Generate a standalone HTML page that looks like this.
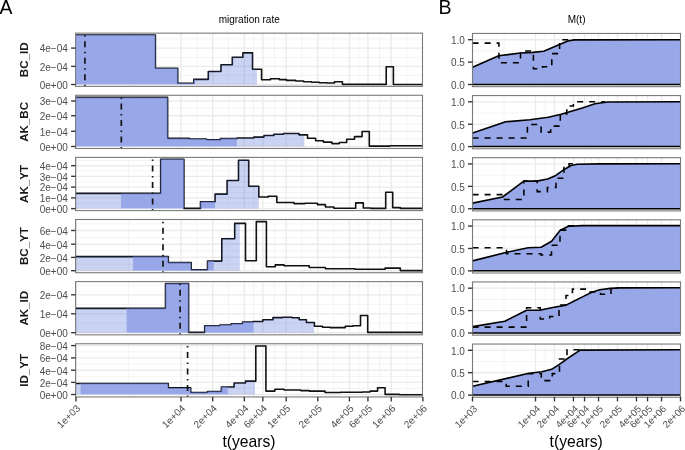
<!DOCTYPE html><html><head><meta charset="utf-8"><style>html,body{margin:0;padding:0;background:#fff;width:685px;height:450px;overflow:hidden}svg{display:block;font-family:"Liberation Sans",sans-serif;will-change:transform}</style></head><body>
<svg width="685" height="450" viewBox="0 0 685 450">
<rect width="685" height="450" fill="#fff"/>
<text x="-0.5" y="13.7" font-size="19.4" fill="#000">A</text>
<text x="438.6" y="13.7" font-size="19.6" fill="#000">B</text>
<text x="249.2" y="22.8" font-size="10" text-anchor="middle" fill="#000">migration rate</text>
<text x="576.6" y="23" font-size="10" text-anchor="middle" fill="#000">M(t)</text>
<clipPath id="cl0"><rect x="75.6" y="33.15" width="346.9" height="53.2"/></clipPath>
<g clip-path="url(#cl0)">
<line x1="75.6" x2="422.5" y1="75.45" y2="75.45" stroke="#f3f3f3" stroke-width="0.9"/>
<line x1="75.6" x2="422.5" y1="57.35" y2="57.35" stroke="#f3f3f3" stroke-width="0.9"/>
<line x1="75.6" x2="422.5" y1="39.05" y2="39.05" stroke="#f3f3f3" stroke-width="0.9"/>
<line x1="128.5" x2="128.5" y1="33.15" y2="86.35" stroke="#f3f3f3" stroke-width="0.9"/>
<line x1="196.87" x2="196.87" y1="33.15" y2="86.35" stroke="#f3f3f3" stroke-width="0.9"/>
<line x1="228.51" x2="228.51" y1="33.15" y2="86.35" stroke="#f3f3f3" stroke-width="0.9"/>
<line x1="253.58" x2="253.58" y1="33.15" y2="86.35" stroke="#f3f3f3" stroke-width="0.9"/>
<line x1="274.49" x2="274.49" y1="33.15" y2="86.35" stroke="#f3f3f3" stroke-width="0.9"/>
<line x1="301.97" x2="301.97" y1="33.15" y2="86.35" stroke="#f3f3f3" stroke-width="0.9"/>
<line x1="333.61" x2="333.61" y1="33.15" y2="86.35" stroke="#f3f3f3" stroke-width="0.9"/>
<line x1="358.68" x2="358.68" y1="33.15" y2="86.35" stroke="#f3f3f3" stroke-width="0.9"/>
<line x1="379.59" x2="379.59" y1="33.15" y2="86.35" stroke="#f3f3f3" stroke-width="0.9"/>
<line x1="407.07" x2="407.07" y1="33.15" y2="86.35" stroke="#f3f3f3" stroke-width="0.9"/>
<line x1="75.6" x2="422.5" y1="84.5" y2="84.5" stroke="#ebebeb" stroke-width="1.35"/>
<line x1="75.6" x2="422.5" y1="66.4" y2="66.4" stroke="#ebebeb" stroke-width="1.35"/>
<line x1="75.6" x2="422.5" y1="48.1" y2="48.1" stroke="#ebebeb" stroke-width="1.35"/>
<line x1="75.95" x2="75.95" y1="33.15" y2="86.35" stroke="#ebebeb" stroke-width="1.35"/>
<line x1="181.05" x2="181.05" y1="33.15" y2="86.35" stroke="#ebebeb" stroke-width="1.35"/>
<line x1="212.69" x2="212.69" y1="33.15" y2="86.35" stroke="#ebebeb" stroke-width="1.35"/>
<line x1="244.33" x2="244.33" y1="33.15" y2="86.35" stroke="#ebebeb" stroke-width="1.35"/>
<line x1="262.83" x2="262.83" y1="33.15" y2="86.35" stroke="#ebebeb" stroke-width="1.35"/>
<line x1="286.15" x2="286.15" y1="33.15" y2="86.35" stroke="#ebebeb" stroke-width="1.35"/>
<line x1="317.79" x2="317.79" y1="33.15" y2="86.35" stroke="#ebebeb" stroke-width="1.35"/>
<line x1="349.43" x2="349.43" y1="33.15" y2="86.35" stroke="#ebebeb" stroke-width="1.35"/>
<line x1="367.93" x2="367.93" y1="33.15" y2="86.35" stroke="#ebebeb" stroke-width="1.35"/>
<line x1="391.25" x2="391.25" y1="33.15" y2="86.35" stroke="#ebebeb" stroke-width="1.35"/>
<line x1="422.89" x2="422.89" y1="33.15" y2="86.35" stroke="#ebebeb" stroke-width="1.35"/>
<path d="M75.8,84.5 L75.8,35 L155.4,35 L155.4,68.2 L177.7,68.2 L177.7,83.2 L193.8,83.2 L193.8,79.4 L195.2,79.4 L195.2,84.5 Z" fill="#fff"/>
<path d="M75.6,35 H155.4 V68.2 H177.7 V83.2 H193.8 V79.4 H208.3 V71.5 H221 V64.7 H232.3 V57.2 H242.9 V52.9 H252.5 V69.3 H261.6 V79.7 H270.5 V78.7 H279.3 V79.6 H286.5 V80.4 H295.7 V81 H303.6 V81.7 H311.5 V82.2 H319.4 V82.7 H327 V83 H334.5 V81.7 H342.4 V84.4 H386.2 V66.8 H393.4 V84.5 H422.6" fill="none" stroke="#111" stroke-width="1.6" stroke-linejoin="round"/>
<path d="M75.8,84.5 L75.8,35 L155.4,35 L155.4,68.2 L177.7,68.2 L177.7,83.2 L193.8,83.2 L193.8,79.4 L195.2,79.4 L195.2,84.5 Z" fill="rgb(116,138,223)" fill-opacity="0.75"/>
<path d="M195.2,84.5 L195.2,79.4 L208.3,79.4 L208.3,71.5 L221,71.5 L221,64.7 L232.3,64.7 L232.3,57.2 L242.9,57.2 L242.9,52.9 L252.5,52.9 L252.5,69.3 L257,69.3 L257,84.5 Z" fill="rgb(47,79,208)" fill-opacity="0.25"/>
<line x1="84.9" x2="84.9" y1="86.35" y2="33.15" stroke="#141414" stroke-width="1.7" stroke-dasharray="1.5 4.5 6 4.5"/>
</g>
<rect x="75.6" y="33.15" width="346.9" height="53.2" fill="none" stroke="#7a7a7a" stroke-width="1.1"/>
<line x1="71.1" x2="75.6" y1="84.5" y2="84.5" stroke="#333" stroke-width="1.35"/>
<text x="67.8" y="88.8" font-size="10" text-anchor="end" fill="#4d4d4d">0e+00</text>
<line x1="71.1" x2="75.6" y1="66.4" y2="66.4" stroke="#333" stroke-width="1.35"/>
<text x="67.8" y="70.7" font-size="10" text-anchor="end" fill="#4d4d4d">2e−04</text>
<line x1="71.1" x2="75.6" y1="48.1" y2="48.1" stroke="#333" stroke-width="1.35"/>
<text x="67.8" y="52.4" font-size="10" text-anchor="end" fill="#4d4d4d">4e−04</text>
<text transform="translate(28.4,59.75) rotate(-90)" font-size="11.6" font-weight="bold" text-anchor="middle" fill="#1a1a1a">BC_ID</text>
<clipPath id="cr0"><rect x="472.5" y="33.45" width="208" height="53.2"/></clipPath>
<g clip-path="url(#cr0)">
<line x1="472.5" x2="680.5" y1="73.3" y2="73.3" stroke="#f3f3f3" stroke-width="0.9"/>
<line x1="472.5" x2="680.5" y1="50.9" y2="50.9" stroke="#f3f3f3" stroke-width="0.9"/>
<line x1="504.01" x2="504.01" y1="33.45" y2="86.65" stroke="#f3f3f3" stroke-width="0.9"/>
<line x1="544.99" x2="544.99" y1="33.45" y2="86.65" stroke="#f3f3f3" stroke-width="0.9"/>
<line x1="563.96" x2="563.96" y1="33.45" y2="86.65" stroke="#f3f3f3" stroke-width="0.9"/>
<line x1="578.99" x2="578.99" y1="33.45" y2="86.65" stroke="#f3f3f3" stroke-width="0.9"/>
<line x1="591.53" x2="591.53" y1="33.45" y2="86.65" stroke="#f3f3f3" stroke-width="0.9"/>
<line x1="608.01" x2="608.01" y1="33.45" y2="86.65" stroke="#f3f3f3" stroke-width="0.9"/>
<line x1="626.97" x2="626.97" y1="33.45" y2="86.65" stroke="#f3f3f3" stroke-width="0.9"/>
<line x1="642.01" x2="642.01" y1="33.45" y2="86.65" stroke="#f3f3f3" stroke-width="0.9"/>
<line x1="654.54" x2="654.54" y1="33.45" y2="86.65" stroke="#f3f3f3" stroke-width="0.9"/>
<line x1="671.02" x2="671.02" y1="33.45" y2="86.65" stroke="#f3f3f3" stroke-width="0.9"/>
<line x1="472.5" x2="680.5" y1="84.5" y2="84.5" stroke="#ebebeb" stroke-width="1.35"/>
<line x1="472.5" x2="680.5" y1="62.1" y2="62.1" stroke="#ebebeb" stroke-width="1.35"/>
<line x1="472.5" x2="680.5" y1="39.7" y2="39.7" stroke="#ebebeb" stroke-width="1.35"/>
<line x1="472.5" x2="472.5" y1="33.45" y2="86.65" stroke="#ebebeb" stroke-width="1.35"/>
<line x1="535.51" x2="535.51" y1="33.45" y2="86.65" stroke="#ebebeb" stroke-width="1.35"/>
<line x1="554.48" x2="554.48" y1="33.45" y2="86.65" stroke="#ebebeb" stroke-width="1.35"/>
<line x1="573.45" x2="573.45" y1="33.45" y2="86.65" stroke="#ebebeb" stroke-width="1.35"/>
<line x1="584.54" x2="584.54" y1="33.45" y2="86.65" stroke="#ebebeb" stroke-width="1.35"/>
<line x1="598.52" x2="598.52" y1="33.45" y2="86.65" stroke="#ebebeb" stroke-width="1.35"/>
<line x1="617.49" x2="617.49" y1="33.45" y2="86.65" stroke="#ebebeb" stroke-width="1.35"/>
<line x1="636.46" x2="636.46" y1="33.45" y2="86.65" stroke="#ebebeb" stroke-width="1.35"/>
<line x1="647.55" x2="647.55" y1="33.45" y2="86.65" stroke="#ebebeb" stroke-width="1.35"/>
<line x1="661.53" x2="661.53" y1="33.45" y2="86.65" stroke="#ebebeb" stroke-width="1.35"/>
<line x1="680.5" x2="680.5" y1="33.45" y2="86.65" stroke="#ebebeb" stroke-width="1.35"/>
<path d="M472.6,84.5 L472.6,67.3 L498.7,55.8 L520.3,53 L533,52.4 L543.7,51.3 L559.6,44.6 L567.8,41 L574.1,39.9 L680.6,39.7 L680.6,84.5 Z" fill="#97a7e7"/>
<line x1="472.5" x2="680.5" y1="84.5" y2="84.5" stroke="#000" stroke-width="1.5"/>
<path d="M472.6,67.3 L498.7,55.8 L520.3,53 L533,52.4 L543.7,51.3 L559.6,44.6 L567.8,41 L574.1,39.9 L680.6,39.7" fill="none" stroke="#000" stroke-width="1.6" stroke-linejoin="round"/>
<path d="M472.6,43.1 H498.9 V62.8 H520.5 V51 H533.4 V68.8 H542.6 V66.8 H551.8 V53.6 H559.6 V39.8 H574" fill="none" stroke="#000" stroke-width="1.55" stroke-dasharray="6 6"/>
</g>
<rect x="472.5" y="33.45" width="208" height="53.2" fill="none" stroke="#7a7a7a" stroke-width="1.1"/>
<line x1="468" x2="472.5" y1="84.5" y2="84.5" stroke="#333" stroke-width="1.35"/>
<text x="464.9" y="88.8" font-size="10" text-anchor="end" fill="#4d4d4d">0.0</text>
<line x1="468" x2="472.5" y1="62.1" y2="62.1" stroke="#333" stroke-width="1.35"/>
<text x="464.9" y="66.4" font-size="10" text-anchor="end" fill="#4d4d4d">0.5</text>
<line x1="468" x2="472.5" y1="39.7" y2="39.7" stroke="#333" stroke-width="1.35"/>
<text x="464.9" y="44" font-size="10" text-anchor="end" fill="#4d4d4d">1.0</text>
<clipPath id="cl1"><rect x="75.6" y="95.27" width="346.9" height="53.2"/></clipPath>
<g clip-path="url(#cl1)">
<line x1="75.6" x2="422.5" y1="138.9" y2="138.9" stroke="#f3f3f3" stroke-width="0.9"/>
<line x1="75.6" x2="422.5" y1="123.7" y2="123.7" stroke="#f3f3f3" stroke-width="0.9"/>
<line x1="75.6" x2="422.5" y1="108.1" y2="108.1" stroke="#f3f3f3" stroke-width="0.9"/>
<line x1="128.5" x2="128.5" y1="95.27" y2="148.47" stroke="#f3f3f3" stroke-width="0.9"/>
<line x1="196.87" x2="196.87" y1="95.27" y2="148.47" stroke="#f3f3f3" stroke-width="0.9"/>
<line x1="228.51" x2="228.51" y1="95.27" y2="148.47" stroke="#f3f3f3" stroke-width="0.9"/>
<line x1="253.58" x2="253.58" y1="95.27" y2="148.47" stroke="#f3f3f3" stroke-width="0.9"/>
<line x1="274.49" x2="274.49" y1="95.27" y2="148.47" stroke="#f3f3f3" stroke-width="0.9"/>
<line x1="301.97" x2="301.97" y1="95.27" y2="148.47" stroke="#f3f3f3" stroke-width="0.9"/>
<line x1="333.61" x2="333.61" y1="95.27" y2="148.47" stroke="#f3f3f3" stroke-width="0.9"/>
<line x1="358.68" x2="358.68" y1="95.27" y2="148.47" stroke="#f3f3f3" stroke-width="0.9"/>
<line x1="379.59" x2="379.59" y1="95.27" y2="148.47" stroke="#f3f3f3" stroke-width="0.9"/>
<line x1="407.07" x2="407.07" y1="95.27" y2="148.47" stroke="#f3f3f3" stroke-width="0.9"/>
<line x1="75.6" x2="422.5" y1="146.5" y2="146.5" stroke="#ebebeb" stroke-width="1.35"/>
<line x1="75.6" x2="422.5" y1="131.3" y2="131.3" stroke="#ebebeb" stroke-width="1.35"/>
<line x1="75.6" x2="422.5" y1="115.7" y2="115.7" stroke="#ebebeb" stroke-width="1.35"/>
<line x1="75.6" x2="422.5" y1="101" y2="101" stroke="#ebebeb" stroke-width="1.35"/>
<line x1="75.95" x2="75.95" y1="95.27" y2="148.47" stroke="#ebebeb" stroke-width="1.35"/>
<line x1="181.05" x2="181.05" y1="95.27" y2="148.47" stroke="#ebebeb" stroke-width="1.35"/>
<line x1="212.69" x2="212.69" y1="95.27" y2="148.47" stroke="#ebebeb" stroke-width="1.35"/>
<line x1="244.33" x2="244.33" y1="95.27" y2="148.47" stroke="#ebebeb" stroke-width="1.35"/>
<line x1="262.83" x2="262.83" y1="95.27" y2="148.47" stroke="#ebebeb" stroke-width="1.35"/>
<line x1="286.15" x2="286.15" y1="95.27" y2="148.47" stroke="#ebebeb" stroke-width="1.35"/>
<line x1="317.79" x2="317.79" y1="95.27" y2="148.47" stroke="#ebebeb" stroke-width="1.35"/>
<line x1="349.43" x2="349.43" y1="95.27" y2="148.47" stroke="#ebebeb" stroke-width="1.35"/>
<line x1="367.93" x2="367.93" y1="95.27" y2="148.47" stroke="#ebebeb" stroke-width="1.35"/>
<line x1="391.25" x2="391.25" y1="95.27" y2="148.47" stroke="#ebebeb" stroke-width="1.35"/>
<line x1="422.89" x2="422.89" y1="95.27" y2="148.47" stroke="#ebebeb" stroke-width="1.35"/>
<path d="M75.8,146.5 L75.8,97.4 L167.6,97.4 L167.6,138.4 L189.4,138.4 L189.4,139 L206.5,139 L206.5,139.7 L220.4,139.7 L220.4,138.6 L236.9,138.6 L236.9,146.5 Z" fill="#fff"/>
<path d="M75.6,97.4 H167.6 V138.4 H189.4 V139 H206.5 V139.7 H220.4 V138.6 H236.9 V138 H253.9 V137.1 H264 V135.5 H273.9 V134.2 H283.4 V133.5 H299 V134.9 H307.5 V138.3 H315.6 V140.8 H323.4 V142.1 H331.9 V143.6 H339.3 V142.5 H346.7 V139.3 H354.5 V136.6 H362.1 V131.5 H369.3 V146.1 H390 V145.7 H422.6" fill="none" stroke="#111" stroke-width="1.6" stroke-linejoin="round"/>
<path d="M75.8,146.5 L75.8,97.4 L167.6,97.4 L167.6,138.4 L189.4,138.4 L189.4,139 L206.5,139 L206.5,139.7 L220.4,139.7 L220.4,138.6 L236.9,138.6 L236.9,146.5 Z" fill="rgb(116,138,223)" fill-opacity="0.75"/>
<path d="M236.9,146.5 L236.9,138 L253.9,138 L253.9,137.1 L264,137.1 L264,135.5 L273.9,135.5 L273.9,134.2 L283.4,134.2 L283.4,133.5 L299,133.5 L299,134.9 L304.3,134.9 L304.3,146.5 Z" fill="rgb(47,79,208)" fill-opacity="0.25"/>
<line x1="121.3" x2="121.3" y1="148.47" y2="95.27" stroke="#141414" stroke-width="1.7" stroke-dasharray="1.5 4.5 6 4.5"/>
</g>
<rect x="75.6" y="95.27" width="346.9" height="53.2" fill="none" stroke="#7a7a7a" stroke-width="1.1"/>
<line x1="71.1" x2="75.6" y1="146.5" y2="146.5" stroke="#333" stroke-width="1.35"/>
<text x="67.8" y="150.8" font-size="10" text-anchor="end" fill="#4d4d4d">0e+00</text>
<line x1="71.1" x2="75.6" y1="131.3" y2="131.3" stroke="#333" stroke-width="1.35"/>
<text x="67.8" y="135.6" font-size="10" text-anchor="end" fill="#4d4d4d">1e−04</text>
<line x1="71.1" x2="75.6" y1="115.7" y2="115.7" stroke="#333" stroke-width="1.35"/>
<text x="67.8" y="120" font-size="10" text-anchor="end" fill="#4d4d4d">2e−04</text>
<line x1="71.1" x2="75.6" y1="101" y2="101" stroke="#333" stroke-width="1.35"/>
<text x="67.8" y="105.3" font-size="10" text-anchor="end" fill="#4d4d4d">3e−04</text>
<text transform="translate(28.4,121.87) rotate(-90)" font-size="11.6" font-weight="bold" text-anchor="middle" fill="#1a1a1a">AK_BC</text>
<clipPath id="cr1"><rect x="472.5" y="95.57" width="208" height="53.2"/></clipPath>
<g clip-path="url(#cr1)">
<line x1="472.5" x2="680.5" y1="135.42" y2="135.42" stroke="#f3f3f3" stroke-width="0.9"/>
<line x1="472.5" x2="680.5" y1="113.02" y2="113.02" stroke="#f3f3f3" stroke-width="0.9"/>
<line x1="504.01" x2="504.01" y1="95.57" y2="148.77" stroke="#f3f3f3" stroke-width="0.9"/>
<line x1="544.99" x2="544.99" y1="95.57" y2="148.77" stroke="#f3f3f3" stroke-width="0.9"/>
<line x1="563.96" x2="563.96" y1="95.57" y2="148.77" stroke="#f3f3f3" stroke-width="0.9"/>
<line x1="578.99" x2="578.99" y1="95.57" y2="148.77" stroke="#f3f3f3" stroke-width="0.9"/>
<line x1="591.53" x2="591.53" y1="95.57" y2="148.77" stroke="#f3f3f3" stroke-width="0.9"/>
<line x1="608.01" x2="608.01" y1="95.57" y2="148.77" stroke="#f3f3f3" stroke-width="0.9"/>
<line x1="626.97" x2="626.97" y1="95.57" y2="148.77" stroke="#f3f3f3" stroke-width="0.9"/>
<line x1="642.01" x2="642.01" y1="95.57" y2="148.77" stroke="#f3f3f3" stroke-width="0.9"/>
<line x1="654.54" x2="654.54" y1="95.57" y2="148.77" stroke="#f3f3f3" stroke-width="0.9"/>
<line x1="671.02" x2="671.02" y1="95.57" y2="148.77" stroke="#f3f3f3" stroke-width="0.9"/>
<line x1="472.5" x2="680.5" y1="146.62" y2="146.62" stroke="#ebebeb" stroke-width="1.35"/>
<line x1="472.5" x2="680.5" y1="124.22" y2="124.22" stroke="#ebebeb" stroke-width="1.35"/>
<line x1="472.5" x2="680.5" y1="101.82" y2="101.82" stroke="#ebebeb" stroke-width="1.35"/>
<line x1="472.5" x2="472.5" y1="95.57" y2="148.77" stroke="#ebebeb" stroke-width="1.35"/>
<line x1="535.51" x2="535.51" y1="95.57" y2="148.77" stroke="#ebebeb" stroke-width="1.35"/>
<line x1="554.48" x2="554.48" y1="95.57" y2="148.77" stroke="#ebebeb" stroke-width="1.35"/>
<line x1="573.45" x2="573.45" y1="95.57" y2="148.77" stroke="#ebebeb" stroke-width="1.35"/>
<line x1="584.54" x2="584.54" y1="95.57" y2="148.77" stroke="#ebebeb" stroke-width="1.35"/>
<line x1="598.52" x2="598.52" y1="95.57" y2="148.77" stroke="#ebebeb" stroke-width="1.35"/>
<line x1="617.49" x2="617.49" y1="95.57" y2="148.77" stroke="#ebebeb" stroke-width="1.35"/>
<line x1="636.46" x2="636.46" y1="95.57" y2="148.77" stroke="#ebebeb" stroke-width="1.35"/>
<line x1="647.55" x2="647.55" y1="95.57" y2="148.77" stroke="#ebebeb" stroke-width="1.35"/>
<line x1="661.53" x2="661.53" y1="95.57" y2="148.77" stroke="#ebebeb" stroke-width="1.35"/>
<line x1="680.5" x2="680.5" y1="95.57" y2="148.77" stroke="#ebebeb" stroke-width="1.35"/>
<path d="M472.6,146.62 L472.6,133 L505.7,121.8 L529.8,119.7 L548.3,117.3 L561.2,114.3 L582.3,108 L595,103.8 L607.7,102 L680.6,101.7 L680.6,146.62 Z" fill="#97a7e7"/>
<line x1="472.5" x2="680.5" y1="146.62" y2="146.62" stroke="#000" stroke-width="1.5"/>
<path d="M472.6,133 L505.7,121.8 L529.8,119.7 L548.3,117.3 L561.2,114.3 L582.3,108 L595,103.8 L607.7,102 L680.6,101.7" fill="none" stroke="#000" stroke-width="1.6" stroke-linejoin="round"/>
<path d="M472.6,137.9 H527.4 V124.5 H541.1 V132.1 H550.7 V126.1 H560.3 V114 H566.8 V106 H573.4 V101.7 H605" fill="none" stroke="#000" stroke-width="1.55" stroke-dasharray="6 6"/>
</g>
<rect x="472.5" y="95.57" width="208" height="53.2" fill="none" stroke="#7a7a7a" stroke-width="1.1"/>
<line x1="468" x2="472.5" y1="146.62" y2="146.62" stroke="#333" stroke-width="1.35"/>
<text x="464.9" y="150.92" font-size="10" text-anchor="end" fill="#4d4d4d">0.0</text>
<line x1="468" x2="472.5" y1="124.22" y2="124.22" stroke="#333" stroke-width="1.35"/>
<text x="464.9" y="128.52" font-size="10" text-anchor="end" fill="#4d4d4d">0.5</text>
<line x1="468" x2="472.5" y1="101.82" y2="101.82" stroke="#333" stroke-width="1.35"/>
<text x="464.9" y="106.12" font-size="10" text-anchor="end" fill="#4d4d4d">1.0</text>
<clipPath id="cl2"><rect x="75.6" y="157.39" width="346.9" height="53.2"/></clipPath>
<g clip-path="url(#cl2)">
<line x1="75.6" x2="422.5" y1="203.25" y2="203.25" stroke="#f3f3f3" stroke-width="0.9"/>
<line x1="75.6" x2="422.5" y1="192.55" y2="192.55" stroke="#f3f3f3" stroke-width="0.9"/>
<line x1="75.6" x2="422.5" y1="181.75" y2="181.75" stroke="#f3f3f3" stroke-width="0.9"/>
<line x1="75.6" x2="422.5" y1="170.95" y2="170.95" stroke="#f3f3f3" stroke-width="0.9"/>
<line x1="75.6" x2="422.5" y1="160.35" y2="160.35" stroke="#f3f3f3" stroke-width="0.9"/>
<line x1="128.5" x2="128.5" y1="157.39" y2="210.59" stroke="#f3f3f3" stroke-width="0.9"/>
<line x1="196.87" x2="196.87" y1="157.39" y2="210.59" stroke="#f3f3f3" stroke-width="0.9"/>
<line x1="228.51" x2="228.51" y1="157.39" y2="210.59" stroke="#f3f3f3" stroke-width="0.9"/>
<line x1="253.58" x2="253.58" y1="157.39" y2="210.59" stroke="#f3f3f3" stroke-width="0.9"/>
<line x1="274.49" x2="274.49" y1="157.39" y2="210.59" stroke="#f3f3f3" stroke-width="0.9"/>
<line x1="301.97" x2="301.97" y1="157.39" y2="210.59" stroke="#f3f3f3" stroke-width="0.9"/>
<line x1="333.61" x2="333.61" y1="157.39" y2="210.59" stroke="#f3f3f3" stroke-width="0.9"/>
<line x1="358.68" x2="358.68" y1="157.39" y2="210.59" stroke="#f3f3f3" stroke-width="0.9"/>
<line x1="379.59" x2="379.59" y1="157.39" y2="210.59" stroke="#f3f3f3" stroke-width="0.9"/>
<line x1="407.07" x2="407.07" y1="157.39" y2="210.59" stroke="#f3f3f3" stroke-width="0.9"/>
<line x1="75.6" x2="422.5" y1="208.6" y2="208.6" stroke="#ebebeb" stroke-width="1.35"/>
<line x1="75.6" x2="422.5" y1="197.9" y2="197.9" stroke="#ebebeb" stroke-width="1.35"/>
<line x1="75.6" x2="422.5" y1="187.1" y2="187.1" stroke="#ebebeb" stroke-width="1.35"/>
<line x1="75.6" x2="422.5" y1="176.3" y2="176.3" stroke="#ebebeb" stroke-width="1.35"/>
<line x1="75.6" x2="422.5" y1="165.7" y2="165.7" stroke="#ebebeb" stroke-width="1.35"/>
<line x1="75.95" x2="75.95" y1="157.39" y2="210.59" stroke="#ebebeb" stroke-width="1.35"/>
<line x1="181.05" x2="181.05" y1="157.39" y2="210.59" stroke="#ebebeb" stroke-width="1.35"/>
<line x1="212.69" x2="212.69" y1="157.39" y2="210.59" stroke="#ebebeb" stroke-width="1.35"/>
<line x1="244.33" x2="244.33" y1="157.39" y2="210.59" stroke="#ebebeb" stroke-width="1.35"/>
<line x1="262.83" x2="262.83" y1="157.39" y2="210.59" stroke="#ebebeb" stroke-width="1.35"/>
<line x1="286.15" x2="286.15" y1="157.39" y2="210.59" stroke="#ebebeb" stroke-width="1.35"/>
<line x1="317.79" x2="317.79" y1="157.39" y2="210.59" stroke="#ebebeb" stroke-width="1.35"/>
<line x1="349.43" x2="349.43" y1="157.39" y2="210.59" stroke="#ebebeb" stroke-width="1.35"/>
<line x1="367.93" x2="367.93" y1="157.39" y2="210.59" stroke="#ebebeb" stroke-width="1.35"/>
<line x1="391.25" x2="391.25" y1="157.39" y2="210.59" stroke="#ebebeb" stroke-width="1.35"/>
<line x1="422.89" x2="422.89" y1="157.39" y2="210.59" stroke="#ebebeb" stroke-width="1.35"/>
<path d="M120.9,208.6 L120.9,193.4 L160.7,193.4 L160.7,159.2 L183.9,159.2 L183.9,208.4 L200.5,208.4 L200.5,201.7 L215.1,201.7 L215.1,208.6 Z" fill="#fff"/>
<path d="M75.6,193.4 H160.7 V159.2 H183.9 V208.4 H200.5 V201.7 H215.1 V194.1 H227.1 V180.5 H238.5 V160.2 H248.7 V186.2 H258.8 V197 H268.3 V196.2 H276.8 V202.5 H293.9 V203.6 H305 V203.2 H317.4 V204.6 H325.4 V207 H333.9 V208.2 H355.7 V202.9 H363.3 V208 H370.9 V208.4 H385.7 V192.2 H392.7 V207.6 H400.3 V208.4 H422.6" fill="none" stroke="#111" stroke-width="1.6" stroke-linejoin="round"/>
<path d="M75.8,208.6 L75.8,193.4 L120.9,193.4 L120.9,208.6 Z" fill="rgb(47,79,208)" fill-opacity="0.25"/>
<path d="M120.9,208.6 L120.9,193.4 L160.7,193.4 L160.7,159.2 L183.9,159.2 L183.9,208.4 L200.5,208.4 L200.5,201.7 L215.1,201.7 L215.1,208.6 Z" fill="rgb(116,138,223)" fill-opacity="0.75"/>
<path d="M215.1,208.6 L215.1,194.1 L227.1,194.1 L227.1,180.5 L238.5,180.5 L238.5,160.2 L248.7,160.2 L248.7,186.2 L258.8,186.2 L258.8,208.6 Z" fill="rgb(47,79,208)" fill-opacity="0.25"/>
<line x1="152.6" x2="152.6" y1="210.59" y2="157.39" stroke="#141414" stroke-width="1.7" stroke-dasharray="1.5 4.5 6 4.5"/>
</g>
<rect x="75.6" y="157.39" width="346.9" height="53.2" fill="none" stroke="#7a7a7a" stroke-width="1.1"/>
<line x1="71.1" x2="75.6" y1="208.6" y2="208.6" stroke="#333" stroke-width="1.35"/>
<text x="67.8" y="212.9" font-size="10" text-anchor="end" fill="#4d4d4d">0e+00</text>
<line x1="71.1" x2="75.6" y1="197.9" y2="197.9" stroke="#333" stroke-width="1.35"/>
<text x="67.8" y="202.2" font-size="10" text-anchor="end" fill="#4d4d4d">1e−04</text>
<line x1="71.1" x2="75.6" y1="187.1" y2="187.1" stroke="#333" stroke-width="1.35"/>
<text x="67.8" y="191.4" font-size="10" text-anchor="end" fill="#4d4d4d">2e−04</text>
<line x1="71.1" x2="75.6" y1="176.3" y2="176.3" stroke="#333" stroke-width="1.35"/>
<text x="67.8" y="180.6" font-size="10" text-anchor="end" fill="#4d4d4d">3e−04</text>
<line x1="71.1" x2="75.6" y1="165.7" y2="165.7" stroke="#333" stroke-width="1.35"/>
<text x="67.8" y="170" font-size="10" text-anchor="end" fill="#4d4d4d">4e−04</text>
<text transform="translate(28.4,183.99) rotate(-90)" font-size="11.6" font-weight="bold" text-anchor="middle" fill="#1a1a1a">AK_YT</text>
<clipPath id="cr2"><rect x="472.5" y="157.69" width="208" height="53.2"/></clipPath>
<g clip-path="url(#cr2)">
<line x1="472.5" x2="680.5" y1="197.54" y2="197.54" stroke="#f3f3f3" stroke-width="0.9"/>
<line x1="472.5" x2="680.5" y1="175.14" y2="175.14" stroke="#f3f3f3" stroke-width="0.9"/>
<line x1="504.01" x2="504.01" y1="157.69" y2="210.89" stroke="#f3f3f3" stroke-width="0.9"/>
<line x1="544.99" x2="544.99" y1="157.69" y2="210.89" stroke="#f3f3f3" stroke-width="0.9"/>
<line x1="563.96" x2="563.96" y1="157.69" y2="210.89" stroke="#f3f3f3" stroke-width="0.9"/>
<line x1="578.99" x2="578.99" y1="157.69" y2="210.89" stroke="#f3f3f3" stroke-width="0.9"/>
<line x1="591.53" x2="591.53" y1="157.69" y2="210.89" stroke="#f3f3f3" stroke-width="0.9"/>
<line x1="608.01" x2="608.01" y1="157.69" y2="210.89" stroke="#f3f3f3" stroke-width="0.9"/>
<line x1="626.97" x2="626.97" y1="157.69" y2="210.89" stroke="#f3f3f3" stroke-width="0.9"/>
<line x1="642.01" x2="642.01" y1="157.69" y2="210.89" stroke="#f3f3f3" stroke-width="0.9"/>
<line x1="654.54" x2="654.54" y1="157.69" y2="210.89" stroke="#f3f3f3" stroke-width="0.9"/>
<line x1="671.02" x2="671.02" y1="157.69" y2="210.89" stroke="#f3f3f3" stroke-width="0.9"/>
<line x1="472.5" x2="680.5" y1="208.74" y2="208.74" stroke="#ebebeb" stroke-width="1.35"/>
<line x1="472.5" x2="680.5" y1="186.34" y2="186.34" stroke="#ebebeb" stroke-width="1.35"/>
<line x1="472.5" x2="680.5" y1="163.94" y2="163.94" stroke="#ebebeb" stroke-width="1.35"/>
<line x1="472.5" x2="472.5" y1="157.69" y2="210.89" stroke="#ebebeb" stroke-width="1.35"/>
<line x1="535.51" x2="535.51" y1="157.69" y2="210.89" stroke="#ebebeb" stroke-width="1.35"/>
<line x1="554.48" x2="554.48" y1="157.69" y2="210.89" stroke="#ebebeb" stroke-width="1.35"/>
<line x1="573.45" x2="573.45" y1="157.69" y2="210.89" stroke="#ebebeb" stroke-width="1.35"/>
<line x1="584.54" x2="584.54" y1="157.69" y2="210.89" stroke="#ebebeb" stroke-width="1.35"/>
<line x1="598.52" x2="598.52" y1="157.69" y2="210.89" stroke="#ebebeb" stroke-width="1.35"/>
<line x1="617.49" x2="617.49" y1="157.69" y2="210.89" stroke="#ebebeb" stroke-width="1.35"/>
<line x1="636.46" x2="636.46" y1="157.69" y2="210.89" stroke="#ebebeb" stroke-width="1.35"/>
<line x1="647.55" x2="647.55" y1="157.69" y2="210.89" stroke="#ebebeb" stroke-width="1.35"/>
<line x1="661.53" x2="661.53" y1="157.69" y2="210.89" stroke="#ebebeb" stroke-width="1.35"/>
<line x1="680.5" x2="680.5" y1="157.69" y2="210.89" stroke="#ebebeb" stroke-width="1.35"/>
<path d="M472.6,208.74 L472.6,203.1 L502.5,197 L523.8,181.1 L536.9,181.1 L547.6,179 L555.8,175.4 L562.9,170.3 L571.1,165.5 L577.2,164.2 L600,163.9 L680.6,163.8 L680.6,208.74 Z" fill="#97a7e7"/>
<line x1="472.5" x2="680.5" y1="208.74" y2="208.74" stroke="#000" stroke-width="1.5"/>
<path d="M472.6,203.1 L502.5,197 L523.8,181.1 L536.9,181.1 L547.6,179 L555.8,175.4 L562.9,170.3 L571.1,165.5 L577.2,164.2 L600,163.9 L680.6,163.8" fill="none" stroke="#000" stroke-width="1.6" stroke-linejoin="round"/>
<path d="M472.6,194.6 H503 V199.4 H523.9 V181 H537.2 V191.6 H547.4 V187.5 H556 V178.3 H563.9 V165.7 H569 V163.7 H577" fill="none" stroke="#000" stroke-width="1.55" stroke-dasharray="6 6"/>
</g>
<rect x="472.5" y="157.69" width="208" height="53.2" fill="none" stroke="#7a7a7a" stroke-width="1.1"/>
<line x1="468" x2="472.5" y1="208.74" y2="208.74" stroke="#333" stroke-width="1.35"/>
<text x="464.9" y="213.04" font-size="10" text-anchor="end" fill="#4d4d4d">0.0</text>
<line x1="468" x2="472.5" y1="186.34" y2="186.34" stroke="#333" stroke-width="1.35"/>
<text x="464.9" y="190.64" font-size="10" text-anchor="end" fill="#4d4d4d">0.5</text>
<line x1="468" x2="472.5" y1="163.94" y2="163.94" stroke="#333" stroke-width="1.35"/>
<text x="464.9" y="168.24" font-size="10" text-anchor="end" fill="#4d4d4d">1.0</text>
<clipPath id="cl3"><rect x="75.6" y="219.51" width="346.9" height="53.2"/></clipPath>
<g clip-path="url(#cl3)">
<line x1="75.6" x2="422.5" y1="264.05" y2="264.05" stroke="#f3f3f3" stroke-width="0.9"/>
<line x1="75.6" x2="422.5" y1="250.75" y2="250.75" stroke="#f3f3f3" stroke-width="0.9"/>
<line x1="75.6" x2="422.5" y1="237.55" y2="237.55" stroke="#f3f3f3" stroke-width="0.9"/>
<line x1="75.6" x2="422.5" y1="223.85" y2="223.85" stroke="#f3f3f3" stroke-width="0.9"/>
<line x1="128.5" x2="128.5" y1="219.51" y2="272.71" stroke="#f3f3f3" stroke-width="0.9"/>
<line x1="196.87" x2="196.87" y1="219.51" y2="272.71" stroke="#f3f3f3" stroke-width="0.9"/>
<line x1="228.51" x2="228.51" y1="219.51" y2="272.71" stroke="#f3f3f3" stroke-width="0.9"/>
<line x1="253.58" x2="253.58" y1="219.51" y2="272.71" stroke="#f3f3f3" stroke-width="0.9"/>
<line x1="274.49" x2="274.49" y1="219.51" y2="272.71" stroke="#f3f3f3" stroke-width="0.9"/>
<line x1="301.97" x2="301.97" y1="219.51" y2="272.71" stroke="#f3f3f3" stroke-width="0.9"/>
<line x1="333.61" x2="333.61" y1="219.51" y2="272.71" stroke="#f3f3f3" stroke-width="0.9"/>
<line x1="358.68" x2="358.68" y1="219.51" y2="272.71" stroke="#f3f3f3" stroke-width="0.9"/>
<line x1="379.59" x2="379.59" y1="219.51" y2="272.71" stroke="#f3f3f3" stroke-width="0.9"/>
<line x1="407.07" x2="407.07" y1="219.51" y2="272.71" stroke="#f3f3f3" stroke-width="0.9"/>
<line x1="75.6" x2="422.5" y1="270.7" y2="270.7" stroke="#ebebeb" stroke-width="1.35"/>
<line x1="75.6" x2="422.5" y1="257.4" y2="257.4" stroke="#ebebeb" stroke-width="1.35"/>
<line x1="75.6" x2="422.5" y1="244.2" y2="244.2" stroke="#ebebeb" stroke-width="1.35"/>
<line x1="75.6" x2="422.5" y1="230.5" y2="230.5" stroke="#ebebeb" stroke-width="1.35"/>
<line x1="75.95" x2="75.95" y1="219.51" y2="272.71" stroke="#ebebeb" stroke-width="1.35"/>
<line x1="181.05" x2="181.05" y1="219.51" y2="272.71" stroke="#ebebeb" stroke-width="1.35"/>
<line x1="212.69" x2="212.69" y1="219.51" y2="272.71" stroke="#ebebeb" stroke-width="1.35"/>
<line x1="244.33" x2="244.33" y1="219.51" y2="272.71" stroke="#ebebeb" stroke-width="1.35"/>
<line x1="262.83" x2="262.83" y1="219.51" y2="272.71" stroke="#ebebeb" stroke-width="1.35"/>
<line x1="286.15" x2="286.15" y1="219.51" y2="272.71" stroke="#ebebeb" stroke-width="1.35"/>
<line x1="317.79" x2="317.79" y1="219.51" y2="272.71" stroke="#ebebeb" stroke-width="1.35"/>
<line x1="349.43" x2="349.43" y1="219.51" y2="272.71" stroke="#ebebeb" stroke-width="1.35"/>
<line x1="367.93" x2="367.93" y1="219.51" y2="272.71" stroke="#ebebeb" stroke-width="1.35"/>
<line x1="391.25" x2="391.25" y1="219.51" y2="272.71" stroke="#ebebeb" stroke-width="1.35"/>
<line x1="422.89" x2="422.89" y1="219.51" y2="272.71" stroke="#ebebeb" stroke-width="1.35"/>
<path d="M133,270.7 L133,256.6 L168.3,256.6 L168.3,262.6 L191.2,262.6 L191.2,269.8 L207.5,269.8 L207.5,261.1 L213.8,261.1 L213.8,270.7 Z" fill="#fff"/>
<path d="M75.6,256.6 H168.3 V262.6 H191.2 V269.8 H207.5 V261.1 H221.8 V238.7 H234.7 V223.4 H245.5 V260.7 H256.3 V221.6 H266.4 V266.8 H275.3 V264.9 H284 V265.8 H295 V265.8 H309.2 V267.5 H325.4 V268.8 H355 V269.3 H385.1 V268.1 H400.3 V270.6 H422.6" fill="none" stroke="#111" stroke-width="1.6" stroke-linejoin="round"/>
<path d="M75.8,270.7 L75.8,256.6 L133,256.6 L133,270.7 Z" fill="rgb(47,79,208)" fill-opacity="0.25"/>
<path d="M133,270.7 L133,256.6 L168.3,256.6 L168.3,262.6 L191.2,262.6 L191.2,269.8 L207.5,269.8 L207.5,261.1 L213.8,261.1 L213.8,270.7 Z" fill="rgb(116,138,223)" fill-opacity="0.75"/>
<path d="M213.8,270.7 L213.8,261.1 L221.8,261.1 L221.8,238.7 L234.7,238.7 L234.7,223.4 L239.8,223.4 L239.8,270.7 Z" fill="rgb(47,79,208)" fill-opacity="0.25"/>
<line x1="163" x2="163" y1="272.71" y2="219.51" stroke="#141414" stroke-width="1.7" stroke-dasharray="1.5 4.5 6 4.5"/>
</g>
<rect x="75.6" y="219.51" width="346.9" height="53.2" fill="none" stroke="#7a7a7a" stroke-width="1.1"/>
<line x1="71.1" x2="75.6" y1="270.7" y2="270.7" stroke="#333" stroke-width="1.35"/>
<text x="67.8" y="275" font-size="10" text-anchor="end" fill="#4d4d4d">0e+00</text>
<line x1="71.1" x2="75.6" y1="257.4" y2="257.4" stroke="#333" stroke-width="1.35"/>
<text x="67.8" y="261.7" font-size="10" text-anchor="end" fill="#4d4d4d">2e−04</text>
<line x1="71.1" x2="75.6" y1="244.2" y2="244.2" stroke="#333" stroke-width="1.35"/>
<text x="67.8" y="248.5" font-size="10" text-anchor="end" fill="#4d4d4d">4e−04</text>
<line x1="71.1" x2="75.6" y1="230.5" y2="230.5" stroke="#333" stroke-width="1.35"/>
<text x="67.8" y="234.8" font-size="10" text-anchor="end" fill="#4d4d4d">6e−04</text>
<text transform="translate(28.4,246.11) rotate(-90)" font-size="11.6" font-weight="bold" text-anchor="middle" fill="#1a1a1a">BC_YT</text>
<clipPath id="cr3"><rect x="472.5" y="219.81" width="208" height="53.2"/></clipPath>
<g clip-path="url(#cr3)">
<line x1="472.5" x2="680.5" y1="259.66" y2="259.66" stroke="#f3f3f3" stroke-width="0.9"/>
<line x1="472.5" x2="680.5" y1="237.26" y2="237.26" stroke="#f3f3f3" stroke-width="0.9"/>
<line x1="504.01" x2="504.01" y1="219.81" y2="273.01" stroke="#f3f3f3" stroke-width="0.9"/>
<line x1="544.99" x2="544.99" y1="219.81" y2="273.01" stroke="#f3f3f3" stroke-width="0.9"/>
<line x1="563.96" x2="563.96" y1="219.81" y2="273.01" stroke="#f3f3f3" stroke-width="0.9"/>
<line x1="578.99" x2="578.99" y1="219.81" y2="273.01" stroke="#f3f3f3" stroke-width="0.9"/>
<line x1="591.53" x2="591.53" y1="219.81" y2="273.01" stroke="#f3f3f3" stroke-width="0.9"/>
<line x1="608.01" x2="608.01" y1="219.81" y2="273.01" stroke="#f3f3f3" stroke-width="0.9"/>
<line x1="626.97" x2="626.97" y1="219.81" y2="273.01" stroke="#f3f3f3" stroke-width="0.9"/>
<line x1="642.01" x2="642.01" y1="219.81" y2="273.01" stroke="#f3f3f3" stroke-width="0.9"/>
<line x1="654.54" x2="654.54" y1="219.81" y2="273.01" stroke="#f3f3f3" stroke-width="0.9"/>
<line x1="671.02" x2="671.02" y1="219.81" y2="273.01" stroke="#f3f3f3" stroke-width="0.9"/>
<line x1="472.5" x2="680.5" y1="270.86" y2="270.86" stroke="#ebebeb" stroke-width="1.35"/>
<line x1="472.5" x2="680.5" y1="248.46" y2="248.46" stroke="#ebebeb" stroke-width="1.35"/>
<line x1="472.5" x2="680.5" y1="226.06" y2="226.06" stroke="#ebebeb" stroke-width="1.35"/>
<line x1="472.5" x2="472.5" y1="219.81" y2="273.01" stroke="#ebebeb" stroke-width="1.35"/>
<line x1="535.51" x2="535.51" y1="219.81" y2="273.01" stroke="#ebebeb" stroke-width="1.35"/>
<line x1="554.48" x2="554.48" y1="219.81" y2="273.01" stroke="#ebebeb" stroke-width="1.35"/>
<line x1="573.45" x2="573.45" y1="219.81" y2="273.01" stroke="#ebebeb" stroke-width="1.35"/>
<line x1="584.54" x2="584.54" y1="219.81" y2="273.01" stroke="#ebebeb" stroke-width="1.35"/>
<line x1="598.52" x2="598.52" y1="219.81" y2="273.01" stroke="#ebebeb" stroke-width="1.35"/>
<line x1="617.49" x2="617.49" y1="219.81" y2="273.01" stroke="#ebebeb" stroke-width="1.35"/>
<line x1="636.46" x2="636.46" y1="219.81" y2="273.01" stroke="#ebebeb" stroke-width="1.35"/>
<line x1="647.55" x2="647.55" y1="219.81" y2="273.01" stroke="#ebebeb" stroke-width="1.35"/>
<line x1="661.53" x2="661.53" y1="219.81" y2="273.01" stroke="#ebebeb" stroke-width="1.35"/>
<line x1="680.5" x2="680.5" y1="219.81" y2="273.01" stroke="#ebebeb" stroke-width="1.35"/>
<path d="M472.6,270.86 L472.6,260.9 L505.7,252.5 L528.2,247.7 L541.1,247.2 L551.6,241.2 L560.2,230.3 L568.6,226.2 L582.3,225.6 L680.6,225.6 L680.6,270.86 Z" fill="#97a7e7"/>
<line x1="472.5" x2="680.5" y1="270.86" y2="270.86" stroke="#000" stroke-width="1.5"/>
<path d="M472.6,260.9 L505.7,252.5 L528.2,247.7 L541.1,247.2 L551.6,241.2 L560.2,230.3 L568.6,226.2 L582.3,225.6 L680.6,225.6" fill="none" stroke="#000" stroke-width="1.6" stroke-linejoin="round"/>
<path d="M472.6,247.7 H506.5 V253.8 H541.1 V255 H551.5 V245.3 H560 V230.1 H568.4 V225.7 H580" fill="none" stroke="#000" stroke-width="1.55" stroke-dasharray="6 6"/>
</g>
<rect x="472.5" y="219.81" width="208" height="53.2" fill="none" stroke="#7a7a7a" stroke-width="1.1"/>
<line x1="468" x2="472.5" y1="270.86" y2="270.86" stroke="#333" stroke-width="1.35"/>
<text x="464.9" y="275.16" font-size="10" text-anchor="end" fill="#4d4d4d">0.0</text>
<line x1="468" x2="472.5" y1="248.46" y2="248.46" stroke="#333" stroke-width="1.35"/>
<text x="464.9" y="252.76" font-size="10" text-anchor="end" fill="#4d4d4d">0.5</text>
<line x1="468" x2="472.5" y1="226.06" y2="226.06" stroke="#333" stroke-width="1.35"/>
<text x="464.9" y="230.36" font-size="10" text-anchor="end" fill="#4d4d4d">1.0</text>
<clipPath id="cl4"><rect x="75.6" y="281.63" width="346.9" height="53.2"/></clipPath>
<g clip-path="url(#cl4)">
<line x1="75.6" x2="422.5" y1="323.25" y2="323.25" stroke="#f3f3f3" stroke-width="0.9"/>
<line x1="75.6" x2="422.5" y1="304.35" y2="304.35" stroke="#f3f3f3" stroke-width="0.9"/>
<line x1="75.6" x2="422.5" y1="285.35" y2="285.35" stroke="#f3f3f3" stroke-width="0.9"/>
<line x1="128.5" x2="128.5" y1="281.63" y2="334.83" stroke="#f3f3f3" stroke-width="0.9"/>
<line x1="196.87" x2="196.87" y1="281.63" y2="334.83" stroke="#f3f3f3" stroke-width="0.9"/>
<line x1="228.51" x2="228.51" y1="281.63" y2="334.83" stroke="#f3f3f3" stroke-width="0.9"/>
<line x1="253.58" x2="253.58" y1="281.63" y2="334.83" stroke="#f3f3f3" stroke-width="0.9"/>
<line x1="274.49" x2="274.49" y1="281.63" y2="334.83" stroke="#f3f3f3" stroke-width="0.9"/>
<line x1="301.97" x2="301.97" y1="281.63" y2="334.83" stroke="#f3f3f3" stroke-width="0.9"/>
<line x1="333.61" x2="333.61" y1="281.63" y2="334.83" stroke="#f3f3f3" stroke-width="0.9"/>
<line x1="358.68" x2="358.68" y1="281.63" y2="334.83" stroke="#f3f3f3" stroke-width="0.9"/>
<line x1="379.59" x2="379.59" y1="281.63" y2="334.83" stroke="#f3f3f3" stroke-width="0.9"/>
<line x1="407.07" x2="407.07" y1="281.63" y2="334.83" stroke="#f3f3f3" stroke-width="0.9"/>
<line x1="75.6" x2="422.5" y1="332.7" y2="332.7" stroke="#ebebeb" stroke-width="1.35"/>
<line x1="75.6" x2="422.5" y1="313.8" y2="313.8" stroke="#ebebeb" stroke-width="1.35"/>
<line x1="75.6" x2="422.5" y1="294.8" y2="294.8" stroke="#ebebeb" stroke-width="1.35"/>
<line x1="75.95" x2="75.95" y1="281.63" y2="334.83" stroke="#ebebeb" stroke-width="1.35"/>
<line x1="181.05" x2="181.05" y1="281.63" y2="334.83" stroke="#ebebeb" stroke-width="1.35"/>
<line x1="212.69" x2="212.69" y1="281.63" y2="334.83" stroke="#ebebeb" stroke-width="1.35"/>
<line x1="244.33" x2="244.33" y1="281.63" y2="334.83" stroke="#ebebeb" stroke-width="1.35"/>
<line x1="262.83" x2="262.83" y1="281.63" y2="334.83" stroke="#ebebeb" stroke-width="1.35"/>
<line x1="286.15" x2="286.15" y1="281.63" y2="334.83" stroke="#ebebeb" stroke-width="1.35"/>
<line x1="317.79" x2="317.79" y1="281.63" y2="334.83" stroke="#ebebeb" stroke-width="1.35"/>
<line x1="349.43" x2="349.43" y1="281.63" y2="334.83" stroke="#ebebeb" stroke-width="1.35"/>
<line x1="367.93" x2="367.93" y1="281.63" y2="334.83" stroke="#ebebeb" stroke-width="1.35"/>
<line x1="391.25" x2="391.25" y1="281.63" y2="334.83" stroke="#ebebeb" stroke-width="1.35"/>
<line x1="422.89" x2="422.89" y1="281.63" y2="334.83" stroke="#ebebeb" stroke-width="1.35"/>
<path d="M126.4,332.7 L126.4,308.4 L165.5,308.4 L165.5,283.6 L188.6,283.6 L188.6,332.4 L204.7,332.4 L204.7,325.7 L219.9,325.7 L219.9,325 L231.2,325 L231.2,323.8 L242.6,323.8 L242.6,322.1 L253,322.1 L253,321.5 L253.6,321.5 L253.6,332.7 Z" fill="#fff"/>
<path d="M75.6,308.4 H165.5 V283.6 H188.6 V332.4 H204.7 V325.7 H219.9 V325 H231.2 V323.8 H242.6 V322.1 H253 V321.5 H262.9 V319.7 H273 V317.6 H282.5 V317.2 H292 V317.8 H299.2 V319.7 H306.4 V322.5 H314.4 V326.3 H322.5 V327.2 H330.1 V327.6 H345.3 V326.3 H352.9 V325.7 H360.5 V315.5 H367.7 V332.4 H422.6" fill="none" stroke="#111" stroke-width="1.6" stroke-linejoin="round"/>
<path d="M75.8,332.7 L75.8,308.4 L126.4,308.4 L126.4,332.7 Z" fill="rgb(47,79,208)" fill-opacity="0.25"/>
<path d="M126.4,332.7 L126.4,308.4 L165.5,308.4 L165.5,283.6 L188.6,283.6 L188.6,332.4 L204.7,332.4 L204.7,325.7 L219.9,325.7 L219.9,325 L231.2,325 L231.2,323.8 L242.6,323.8 L242.6,322.1 L253,322.1 L253,321.5 L253.6,321.5 L253.6,332.7 Z" fill="rgb(116,138,223)" fill-opacity="0.75"/>
<path d="M253.6,332.7 L253.6,321.5 L262.9,321.5 L262.9,319.7 L273,319.7 L273,317.6 L282.5,317.6 L282.5,317.2 L292,317.2 L292,317.8 L299.2,317.8 L299.2,319.7 L306.4,319.7 L306.4,322.5 L314,322.5 L314,332.7 Z" fill="rgb(47,79,208)" fill-opacity="0.25"/>
<line x1="180.1" x2="180.1" y1="334.83" y2="281.63" stroke="#141414" stroke-width="1.7" stroke-dasharray="1.5 4.5 6 4.5"/>
</g>
<rect x="75.6" y="281.63" width="346.9" height="53.2" fill="none" stroke="#7a7a7a" stroke-width="1.1"/>
<line x1="71.1" x2="75.6" y1="332.7" y2="332.7" stroke="#333" stroke-width="1.35"/>
<text x="67.8" y="337" font-size="10" text-anchor="end" fill="#4d4d4d">0e+00</text>
<line x1="71.1" x2="75.6" y1="313.8" y2="313.8" stroke="#333" stroke-width="1.35"/>
<text x="67.8" y="318.1" font-size="10" text-anchor="end" fill="#4d4d4d">1e−04</text>
<line x1="71.1" x2="75.6" y1="294.8" y2="294.8" stroke="#333" stroke-width="1.35"/>
<text x="67.8" y="299.1" font-size="10" text-anchor="end" fill="#4d4d4d">2e−04</text>
<text transform="translate(28.4,308.23) rotate(-90)" font-size="11.6" font-weight="bold" text-anchor="middle" fill="#1a1a1a">AK_ID</text>
<clipPath id="cr4"><rect x="472.5" y="281.93" width="208" height="53.2"/></clipPath>
<g clip-path="url(#cr4)">
<line x1="472.5" x2="680.5" y1="321.78" y2="321.78" stroke="#f3f3f3" stroke-width="0.9"/>
<line x1="472.5" x2="680.5" y1="299.38" y2="299.38" stroke="#f3f3f3" stroke-width="0.9"/>
<line x1="504.01" x2="504.01" y1="281.93" y2="335.13" stroke="#f3f3f3" stroke-width="0.9"/>
<line x1="544.99" x2="544.99" y1="281.93" y2="335.13" stroke="#f3f3f3" stroke-width="0.9"/>
<line x1="563.96" x2="563.96" y1="281.93" y2="335.13" stroke="#f3f3f3" stroke-width="0.9"/>
<line x1="578.99" x2="578.99" y1="281.93" y2="335.13" stroke="#f3f3f3" stroke-width="0.9"/>
<line x1="591.53" x2="591.53" y1="281.93" y2="335.13" stroke="#f3f3f3" stroke-width="0.9"/>
<line x1="608.01" x2="608.01" y1="281.93" y2="335.13" stroke="#f3f3f3" stroke-width="0.9"/>
<line x1="626.97" x2="626.97" y1="281.93" y2="335.13" stroke="#f3f3f3" stroke-width="0.9"/>
<line x1="642.01" x2="642.01" y1="281.93" y2="335.13" stroke="#f3f3f3" stroke-width="0.9"/>
<line x1="654.54" x2="654.54" y1="281.93" y2="335.13" stroke="#f3f3f3" stroke-width="0.9"/>
<line x1="671.02" x2="671.02" y1="281.93" y2="335.13" stroke="#f3f3f3" stroke-width="0.9"/>
<line x1="472.5" x2="680.5" y1="332.98" y2="332.98" stroke="#ebebeb" stroke-width="1.35"/>
<line x1="472.5" x2="680.5" y1="310.58" y2="310.58" stroke="#ebebeb" stroke-width="1.35"/>
<line x1="472.5" x2="680.5" y1="288.18" y2="288.18" stroke="#ebebeb" stroke-width="1.35"/>
<line x1="472.5" x2="472.5" y1="281.93" y2="335.13" stroke="#ebebeb" stroke-width="1.35"/>
<line x1="535.51" x2="535.51" y1="281.93" y2="335.13" stroke="#ebebeb" stroke-width="1.35"/>
<line x1="554.48" x2="554.48" y1="281.93" y2="335.13" stroke="#ebebeb" stroke-width="1.35"/>
<line x1="573.45" x2="573.45" y1="281.93" y2="335.13" stroke="#ebebeb" stroke-width="1.35"/>
<line x1="584.54" x2="584.54" y1="281.93" y2="335.13" stroke="#ebebeb" stroke-width="1.35"/>
<line x1="598.52" x2="598.52" y1="281.93" y2="335.13" stroke="#ebebeb" stroke-width="1.35"/>
<line x1="617.49" x2="617.49" y1="281.93" y2="335.13" stroke="#ebebeb" stroke-width="1.35"/>
<line x1="636.46" x2="636.46" y1="281.93" y2="335.13" stroke="#ebebeb" stroke-width="1.35"/>
<line x1="647.55" x2="647.55" y1="281.93" y2="335.13" stroke="#ebebeb" stroke-width="1.35"/>
<line x1="661.53" x2="661.53" y1="281.93" y2="335.13" stroke="#ebebeb" stroke-width="1.35"/>
<line x1="680.5" x2="680.5" y1="281.93" y2="335.13" stroke="#ebebeb" stroke-width="1.35"/>
<path d="M472.6,332.98 L472.6,326.6 L504.9,321.3 L526.6,310.2 L539.5,310.2 L551.5,307.8 L566,305.1 L574.2,301 L583.5,296.4 L591.7,292.3 L599.9,289.7 L610.4,288.4 L619.7,287.9 L680.6,287.8 L680.6,332.98 Z" fill="#97a7e7"/>
<line x1="472.5" x2="680.5" y1="332.98" y2="332.98" stroke="#000" stroke-width="1.5"/>
<path d="M472.6,326.6 L504.9,321.3 L526.6,310.2 L539.5,310.2 L551.5,307.8 L566,305.1 L574.2,301 L583.5,296.4 L591.7,292.3 L599.9,289.7 L610.4,288.4 L619.7,287.9 L680.6,287.8" fill="none" stroke="#000" stroke-width="1.6" stroke-linejoin="round"/>
<path d="M472.6,327.1 H526.6 V307.8 H540.3 V319 H549.7 V316.4 H559 V305 H566 V295.4 H572.4 V289.1 H585.3 V292 H600.5 V294.2 H611 V287.8 H618" fill="none" stroke="#000" stroke-width="1.55" stroke-dasharray="6 6"/>
</g>
<rect x="472.5" y="281.93" width="208" height="53.2" fill="none" stroke="#7a7a7a" stroke-width="1.1"/>
<line x1="468" x2="472.5" y1="332.98" y2="332.98" stroke="#333" stroke-width="1.35"/>
<text x="464.9" y="337.28" font-size="10" text-anchor="end" fill="#4d4d4d">0.0</text>
<line x1="468" x2="472.5" y1="310.58" y2="310.58" stroke="#333" stroke-width="1.35"/>
<text x="464.9" y="314.88" font-size="10" text-anchor="end" fill="#4d4d4d">0.5</text>
<line x1="468" x2="472.5" y1="288.18" y2="288.18" stroke="#333" stroke-width="1.35"/>
<text x="464.9" y="292.48" font-size="10" text-anchor="end" fill="#4d4d4d">1.0</text>
<clipPath id="cl5"><rect x="75.6" y="343.75" width="346.9" height="53.2"/></clipPath>
<g clip-path="url(#cl5)">
<line x1="75.6" x2="422.5" y1="388.45" y2="388.45" stroke="#f3f3f3" stroke-width="0.9"/>
<line x1="75.6" x2="422.5" y1="376.35" y2="376.35" stroke="#f3f3f3" stroke-width="0.9"/>
<line x1="75.6" x2="422.5" y1="364.15" y2="364.15" stroke="#f3f3f3" stroke-width="0.9"/>
<line x1="75.6" x2="422.5" y1="351.85" y2="351.85" stroke="#f3f3f3" stroke-width="0.9"/>
<line x1="128.5" x2="128.5" y1="343.75" y2="396.95" stroke="#f3f3f3" stroke-width="0.9"/>
<line x1="196.87" x2="196.87" y1="343.75" y2="396.95" stroke="#f3f3f3" stroke-width="0.9"/>
<line x1="228.51" x2="228.51" y1="343.75" y2="396.95" stroke="#f3f3f3" stroke-width="0.9"/>
<line x1="253.58" x2="253.58" y1="343.75" y2="396.95" stroke="#f3f3f3" stroke-width="0.9"/>
<line x1="274.49" x2="274.49" y1="343.75" y2="396.95" stroke="#f3f3f3" stroke-width="0.9"/>
<line x1="301.97" x2="301.97" y1="343.75" y2="396.95" stroke="#f3f3f3" stroke-width="0.9"/>
<line x1="333.61" x2="333.61" y1="343.75" y2="396.95" stroke="#f3f3f3" stroke-width="0.9"/>
<line x1="358.68" x2="358.68" y1="343.75" y2="396.95" stroke="#f3f3f3" stroke-width="0.9"/>
<line x1="379.59" x2="379.59" y1="343.75" y2="396.95" stroke="#f3f3f3" stroke-width="0.9"/>
<line x1="407.07" x2="407.07" y1="343.75" y2="396.95" stroke="#f3f3f3" stroke-width="0.9"/>
<line x1="75.6" x2="422.5" y1="394.5" y2="394.5" stroke="#ebebeb" stroke-width="1.35"/>
<line x1="75.6" x2="422.5" y1="382.4" y2="382.4" stroke="#ebebeb" stroke-width="1.35"/>
<line x1="75.6" x2="422.5" y1="370.2" y2="370.2" stroke="#ebebeb" stroke-width="1.35"/>
<line x1="75.6" x2="422.5" y1="357.9" y2="357.9" stroke="#ebebeb" stroke-width="1.35"/>
<line x1="75.6" x2="422.5" y1="345.6" y2="345.6" stroke="#ebebeb" stroke-width="1.35"/>
<line x1="75.95" x2="75.95" y1="343.75" y2="396.95" stroke="#ebebeb" stroke-width="1.35"/>
<line x1="181.05" x2="181.05" y1="343.75" y2="396.95" stroke="#ebebeb" stroke-width="1.35"/>
<line x1="212.69" x2="212.69" y1="343.75" y2="396.95" stroke="#ebebeb" stroke-width="1.35"/>
<line x1="244.33" x2="244.33" y1="343.75" y2="396.95" stroke="#ebebeb" stroke-width="1.35"/>
<line x1="262.83" x2="262.83" y1="343.75" y2="396.95" stroke="#ebebeb" stroke-width="1.35"/>
<line x1="286.15" x2="286.15" y1="343.75" y2="396.95" stroke="#ebebeb" stroke-width="1.35"/>
<line x1="317.79" x2="317.79" y1="343.75" y2="396.95" stroke="#ebebeb" stroke-width="1.35"/>
<line x1="349.43" x2="349.43" y1="343.75" y2="396.95" stroke="#ebebeb" stroke-width="1.35"/>
<line x1="367.93" x2="367.93" y1="343.75" y2="396.95" stroke="#ebebeb" stroke-width="1.35"/>
<line x1="391.25" x2="391.25" y1="343.75" y2="396.95" stroke="#ebebeb" stroke-width="1.35"/>
<line x1="422.89" x2="422.89" y1="343.75" y2="396.95" stroke="#ebebeb" stroke-width="1.35"/>
<path d="M80.4,394.5 L80.4,383.5 L168.3,383.5 L168.3,387.9 L190.7,387.9 L190.7,392.5 L207.5,392.5 L207.5,391.5 L221.4,391.5 L221.4,387 L227.8,387 L227.8,394.5 Z" fill="#fff"/>
<path d="M75.6,383.5 H168.3 V387.9 H190.7 V392.5 H207.5 V391.5 H221.4 V387 H234.1 V383 H245.5 V381.1 H255.8 V346 H265.9 V391.1 H274.9 V389.2 H284 V390 H300.7 V390.6 H309.2 V391.1 H325 V392.5 H340.5 V392.3 H362.4 V392 H370 V391.1 H377.6 V387.7 H385.1 V394.4 H399.4 V394.7 H422.6" fill="none" stroke="#111" stroke-width="1.6" stroke-linejoin="round"/>
<path d="M75.8,394.5 L75.8,383.5 L80.4,383.5 L80.4,394.5 Z" fill="rgb(47,79,208)" fill-opacity="0.25"/>
<path d="M80.4,394.5 L80.4,383.5 L168.3,383.5 L168.3,387.9 L190.7,387.9 L190.7,392.5 L207.5,392.5 L207.5,391.5 L221.4,391.5 L221.4,387 L227.8,387 L227.8,394.5 Z" fill="rgb(116,138,223)" fill-opacity="0.75"/>
<path d="M227.8,394.5 L227.8,387 L234.1,387 L234.1,383 L245.5,383 L245.5,381.1 L255,381.1 L255,394.5 Z" fill="rgb(47,79,208)" fill-opacity="0.25"/>
<line x1="187.6" x2="187.6" y1="396.95" y2="343.75" stroke="#141414" stroke-width="1.7" stroke-dasharray="1.5 4.5 6 4.5"/>
</g>
<rect x="75.6" y="343.75" width="346.9" height="53.2" fill="none" stroke="#7a7a7a" stroke-width="1.1"/>
<line x1="71.1" x2="75.6" y1="394.5" y2="394.5" stroke="#333" stroke-width="1.35"/>
<text x="67.8" y="398.8" font-size="10" text-anchor="end" fill="#4d4d4d">0e+00</text>
<line x1="71.1" x2="75.6" y1="382.4" y2="382.4" stroke="#333" stroke-width="1.35"/>
<text x="67.8" y="386.7" font-size="10" text-anchor="end" fill="#4d4d4d">2e−04</text>
<line x1="71.1" x2="75.6" y1="370.2" y2="370.2" stroke="#333" stroke-width="1.35"/>
<text x="67.8" y="374.5" font-size="10" text-anchor="end" fill="#4d4d4d">4e−04</text>
<line x1="71.1" x2="75.6" y1="357.9" y2="357.9" stroke="#333" stroke-width="1.35"/>
<text x="67.8" y="362.2" font-size="10" text-anchor="end" fill="#4d4d4d">6e−04</text>
<line x1="71.1" x2="75.6" y1="345.6" y2="345.6" stroke="#333" stroke-width="1.35"/>
<text x="67.8" y="349.9" font-size="10" text-anchor="end" fill="#4d4d4d">8e−04</text>
<text transform="translate(28.4,370.35) rotate(-90)" font-size="11.6" font-weight="bold" text-anchor="middle" fill="#1a1a1a">ID_YT</text>
<clipPath id="cr5"><rect x="472.5" y="344.05" width="208" height="53.2"/></clipPath>
<g clip-path="url(#cr5)">
<line x1="472.5" x2="680.5" y1="383.9" y2="383.9" stroke="#f3f3f3" stroke-width="0.9"/>
<line x1="472.5" x2="680.5" y1="361.5" y2="361.5" stroke="#f3f3f3" stroke-width="0.9"/>
<line x1="504.01" x2="504.01" y1="344.05" y2="397.25" stroke="#f3f3f3" stroke-width="0.9"/>
<line x1="544.99" x2="544.99" y1="344.05" y2="397.25" stroke="#f3f3f3" stroke-width="0.9"/>
<line x1="563.96" x2="563.96" y1="344.05" y2="397.25" stroke="#f3f3f3" stroke-width="0.9"/>
<line x1="578.99" x2="578.99" y1="344.05" y2="397.25" stroke="#f3f3f3" stroke-width="0.9"/>
<line x1="591.53" x2="591.53" y1="344.05" y2="397.25" stroke="#f3f3f3" stroke-width="0.9"/>
<line x1="608.01" x2="608.01" y1="344.05" y2="397.25" stroke="#f3f3f3" stroke-width="0.9"/>
<line x1="626.97" x2="626.97" y1="344.05" y2="397.25" stroke="#f3f3f3" stroke-width="0.9"/>
<line x1="642.01" x2="642.01" y1="344.05" y2="397.25" stroke="#f3f3f3" stroke-width="0.9"/>
<line x1="654.54" x2="654.54" y1="344.05" y2="397.25" stroke="#f3f3f3" stroke-width="0.9"/>
<line x1="671.02" x2="671.02" y1="344.05" y2="397.25" stroke="#f3f3f3" stroke-width="0.9"/>
<line x1="472.5" x2="680.5" y1="395.1" y2="395.1" stroke="#ebebeb" stroke-width="1.35"/>
<line x1="472.5" x2="680.5" y1="372.7" y2="372.7" stroke="#ebebeb" stroke-width="1.35"/>
<line x1="472.5" x2="680.5" y1="350.3" y2="350.3" stroke="#ebebeb" stroke-width="1.35"/>
<line x1="472.5" x2="472.5" y1="344.05" y2="397.25" stroke="#ebebeb" stroke-width="1.35"/>
<line x1="535.51" x2="535.51" y1="344.05" y2="397.25" stroke="#ebebeb" stroke-width="1.35"/>
<line x1="554.48" x2="554.48" y1="344.05" y2="397.25" stroke="#ebebeb" stroke-width="1.35"/>
<line x1="573.45" x2="573.45" y1="344.05" y2="397.25" stroke="#ebebeb" stroke-width="1.35"/>
<line x1="584.54" x2="584.54" y1="344.05" y2="397.25" stroke="#ebebeb" stroke-width="1.35"/>
<line x1="598.52" x2="598.52" y1="344.05" y2="397.25" stroke="#ebebeb" stroke-width="1.35"/>
<line x1="617.49" x2="617.49" y1="344.05" y2="397.25" stroke="#ebebeb" stroke-width="1.35"/>
<line x1="636.46" x2="636.46" y1="344.05" y2="397.25" stroke="#ebebeb" stroke-width="1.35"/>
<line x1="647.55" x2="647.55" y1="344.05" y2="397.25" stroke="#ebebeb" stroke-width="1.35"/>
<line x1="661.53" x2="661.53" y1="344.05" y2="397.25" stroke="#ebebeb" stroke-width="1.35"/>
<line x1="680.5" x2="680.5" y1="344.05" y2="397.25" stroke="#ebebeb" stroke-width="1.35"/>
<path d="M472.6,395.1 L472.6,386.2 L529,373.3 L541.9,371.7 L551.6,369.3 L560.1,363.8 L567.5,358.5 L580.2,350.1 L680.6,349.8 L680.6,395.1 Z" fill="#97a7e7"/>
<line x1="472.5" x2="680.5" y1="395.1" y2="395.1" stroke="#000" stroke-width="1.5"/>
<path d="M472.6,386.2 L529,373.3 L541.9,371.7 L551.6,369.3 L560.1,363.8 L567.5,358.5 L580.2,350.1 L680.6,349.8" fill="none" stroke="#000" stroke-width="1.6" stroke-linejoin="round"/>
<path d="M472.6,381.4 H506.2 V386.2 H528.2 V373.7 H541.3 V380.6 H552.3 V373.6 H559.5 V358.9 H567 V349.7 H580" fill="none" stroke="#000" stroke-width="1.55" stroke-dasharray="6 6"/>
</g>
<rect x="472.5" y="344.05" width="208" height="53.2" fill="none" stroke="#7a7a7a" stroke-width="1.1"/>
<line x1="468" x2="472.5" y1="395.1" y2="395.1" stroke="#333" stroke-width="1.35"/>
<text x="464.9" y="399.4" font-size="10" text-anchor="end" fill="#4d4d4d">0.0</text>
<line x1="468" x2="472.5" y1="372.7" y2="372.7" stroke="#333" stroke-width="1.35"/>
<text x="464.9" y="377" font-size="10" text-anchor="end" fill="#4d4d4d">0.5</text>
<line x1="468" x2="472.5" y1="350.3" y2="350.3" stroke="#333" stroke-width="1.35"/>
<text x="464.9" y="354.6" font-size="10" text-anchor="end" fill="#4d4d4d">1.0</text>
<line x1="75.95" x2="75.95" y1="396.95" y2="401.45" stroke="#333" stroke-width="1.35"/>
<text transform="translate(80.85,408.95) rotate(-45)" font-size="10" text-anchor="end" fill="#4d4d4d">1e+03</text>
<line x1="181.05" x2="181.05" y1="396.95" y2="401.45" stroke="#333" stroke-width="1.35"/>
<text transform="translate(185.95,408.95) rotate(-45)" font-size="10" text-anchor="end" fill="#4d4d4d">1e+04</text>
<line x1="212.69" x2="212.69" y1="396.95" y2="401.45" stroke="#333" stroke-width="1.35"/>
<text transform="translate(217.59,408.95) rotate(-45)" font-size="10" text-anchor="end" fill="#4d4d4d">2e+04</text>
<line x1="244.33" x2="244.33" y1="396.95" y2="401.45" stroke="#333" stroke-width="1.35"/>
<text transform="translate(249.23,408.95) rotate(-45)" font-size="10" text-anchor="end" fill="#4d4d4d">4e+04</text>
<line x1="262.83" x2="262.83" y1="396.95" y2="401.45" stroke="#333" stroke-width="1.35"/>
<text transform="translate(267.73,408.95) rotate(-45)" font-size="10" text-anchor="end" fill="#4d4d4d">6e+04</text>
<line x1="286.15" x2="286.15" y1="396.95" y2="401.45" stroke="#333" stroke-width="1.35"/>
<text transform="translate(291.05,408.95) rotate(-45)" font-size="10" text-anchor="end" fill="#4d4d4d">1e+05</text>
<line x1="317.79" x2="317.79" y1="396.95" y2="401.45" stroke="#333" stroke-width="1.35"/>
<text transform="translate(322.69,408.95) rotate(-45)" font-size="10" text-anchor="end" fill="#4d4d4d">2e+05</text>
<line x1="349.43" x2="349.43" y1="396.95" y2="401.45" stroke="#333" stroke-width="1.35"/>
<text transform="translate(354.33,408.95) rotate(-45)" font-size="10" text-anchor="end" fill="#4d4d4d">4e+05</text>
<line x1="367.93" x2="367.93" y1="396.95" y2="401.45" stroke="#333" stroke-width="1.35"/>
<text transform="translate(372.83,408.95) rotate(-45)" font-size="10" text-anchor="end" fill="#4d4d4d">6e+05</text>
<line x1="391.25" x2="391.25" y1="396.95" y2="401.45" stroke="#333" stroke-width="1.35"/>
<text transform="translate(396.15,408.95) rotate(-45)" font-size="10" text-anchor="end" fill="#4d4d4d">1e+06</text>
<line x1="422.89" x2="422.89" y1="396.95" y2="401.45" stroke="#333" stroke-width="1.35"/>
<text transform="translate(427.79,408.95) rotate(-45)" font-size="10" text-anchor="end" fill="#4d4d4d">2e+06</text>
<line x1="472.5" x2="472.5" y1="396.95" y2="401.45" stroke="#333" stroke-width="1.35"/>
<text transform="translate(477.9,409.35) rotate(-45)" font-size="9.7" text-anchor="end" fill="#4d4d4d">1e+03</text>
<line x1="535.51" x2="535.51" y1="396.95" y2="401.45" stroke="#333" stroke-width="1.35"/>
<text transform="translate(540.91,409.35) rotate(-45)" font-size="9.7" text-anchor="end" fill="#4d4d4d">1e+04</text>
<line x1="554.48" x2="554.48" y1="396.95" y2="401.45" stroke="#333" stroke-width="1.35"/>
<text transform="translate(559.88,409.35) rotate(-45)" font-size="9.7" text-anchor="end" fill="#4d4d4d">2e+04</text>
<line x1="573.45" x2="573.45" y1="396.95" y2="401.45" stroke="#333" stroke-width="1.35"/>
<text transform="translate(578.85,409.35) rotate(-45)" font-size="9.7" text-anchor="end" fill="#4d4d4d">4e+04</text>
<line x1="584.54" x2="584.54" y1="396.95" y2="401.45" stroke="#333" stroke-width="1.35"/>
<text transform="translate(589.94,409.35) rotate(-45)" font-size="9.7" text-anchor="end" fill="#4d4d4d">6e+04</text>
<line x1="598.52" x2="598.52" y1="396.95" y2="401.45" stroke="#333" stroke-width="1.35"/>
<text transform="translate(603.92,409.35) rotate(-45)" font-size="9.7" text-anchor="end" fill="#4d4d4d">1e+05</text>
<line x1="617.49" x2="617.49" y1="396.95" y2="401.45" stroke="#333" stroke-width="1.35"/>
<text transform="translate(622.89,409.35) rotate(-45)" font-size="9.7" text-anchor="end" fill="#4d4d4d">2e+05</text>
<line x1="636.46" x2="636.46" y1="396.95" y2="401.45" stroke="#333" stroke-width="1.35"/>
<text transform="translate(641.86,409.35) rotate(-45)" font-size="9.7" text-anchor="end" fill="#4d4d4d">4e+05</text>
<line x1="647.55" x2="647.55" y1="396.95" y2="401.45" stroke="#333" stroke-width="1.35"/>
<text transform="translate(652.95,409.35) rotate(-45)" font-size="9.7" text-anchor="end" fill="#4d4d4d">6e+05</text>
<line x1="661.53" x2="661.53" y1="396.95" y2="401.45" stroke="#333" stroke-width="1.35"/>
<text transform="translate(666.93,409.35) rotate(-45)" font-size="9.7" text-anchor="end" fill="#4d4d4d">1e+06</text>
<line x1="680.5" x2="680.5" y1="396.95" y2="401.45" stroke="#333" stroke-width="1.35"/>
<text transform="translate(685.9,409.35) rotate(-45)" font-size="9.7" text-anchor="end" fill="#4d4d4d">2e+06</text>
<text x="249" y="446.5" font-size="15.7" text-anchor="middle" fill="#000">t(years)</text>
<text x="576.2" y="446.5" font-size="15.7" text-anchor="middle" fill="#000">t(years)</text>
</svg></body></html>
